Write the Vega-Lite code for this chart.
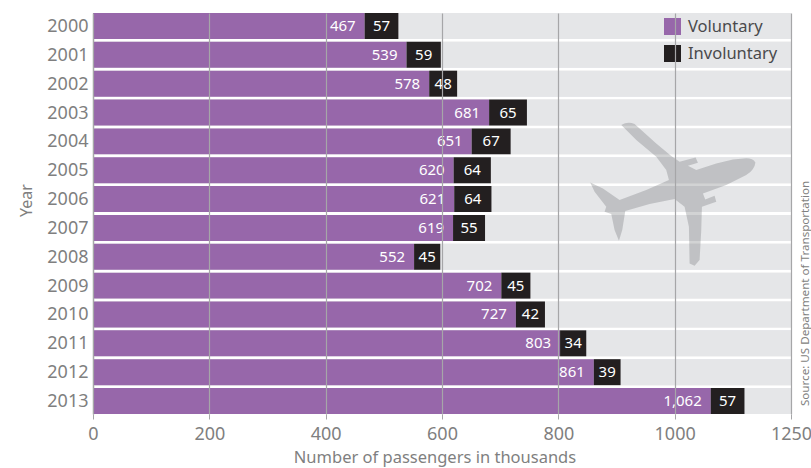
{"$schema":"https://vega.github.io/schema/vega-lite/v6.json","width":698,"height":401,"autosize":"none","padding":{"left":93,"top":13,"right":20,"bottom":54},"background":"white",
"config":{"font":"Noto Sans","view":{"stroke":null}},
"data":{"values":[
{"year":"2000","type":"Voluntary","value":467,"drawn":467},{"year":"2000","type":"Involuntary","value":57,"drawn":58},
{"year":"2001","type":"Voluntary","value":539,"drawn":539},{"year":"2001","type":"Involuntary","value":59,"drawn":59},
{"year":"2002","type":"Voluntary","value":578,"drawn":578},{"year":"2002","type":"Involuntary","value":48,"drawn":48},
{"year":"2003","type":"Voluntary","value":681,"drawn":681},{"year":"2003","type":"Involuntary","value":65,"drawn":65},
{"year":"2004","type":"Voluntary","value":651,"drawn":651},{"year":"2004","type":"Involuntary","value":67,"drawn":67},
{"year":"2005","type":"Voluntary","value":620,"drawn":620},{"year":"2005","type":"Involuntary","value":64,"drawn":64},
{"year":"2006","type":"Voluntary","value":621,"drawn":621},{"year":"2006","type":"Involuntary","value":64,"drawn":64},
{"year":"2007","type":"Voluntary","value":619,"drawn":619},{"year":"2007","type":"Involuntary","value":55,"drawn":55},
{"year":"2008","type":"Voluntary","value":552,"drawn":552},{"year":"2008","type":"Involuntary","value":45,"drawn":45},
{"year":"2009","type":"Voluntary","value":702,"drawn":702},{"year":"2009","type":"Involuntary","value":45,"drawn":50},
{"year":"2010","type":"Voluntary","value":727,"drawn":727},{"year":"2010","type":"Involuntary","value":42,"drawn":50},
{"year":"2011","type":"Voluntary","value":803,"drawn":803},{"year":"2011","type":"Involuntary","value":34,"drawn":45},
{"year":"2012","type":"Voluntary","value":861,"drawn":861},{"year":"2012","type":"Involuntary","value":39,"drawn":46},
{"year":"2013","type":"Voluntary","value":1062,"drawn":1062},{"year":"2013","type":"Involuntary","value":57,"drawn":58}]},
"transform":[{"stack":"drawn","groupby":["year"],"sort":[{"field":"type","order":"descending"}],"as":["x0","x1"]}],
"encoding":{"y":{"field":"year","type":"ordinal","scale":{"paddingInner":0.1,"paddingOuter":0},"axis":{"title":"Year","titleFontSize":16,"titleFontWeight":"normal","titleColor":"#7f7f80","titlePadding":12,"titleY":187,"labelFontSize":18,"labelColor":"#7f7f80","labelPadding":5,"labelOffset":1,"ticks":false,"domainColor":"#c4c4c4","domainWidth":1.5}}},
"layer":[
{"mark":{"type":"bar","color":"#e5e6e8"},"encoding":{"x":{"datum":1200,"type":"quantitative","scale":{"domain":[0,1200],"nice":false},"axis":{"values":[0,200,400,600,800,1000,1200],"labelExpr":"datum.value==1200?'1250':datum.value","format":"d","title":"Number of passengers  in thousands","titleFontSize":16.5,"titleFontWeight":"normal","titleColor":"#7f7f80","titlePadding":6,"titleX":341.5,"labelFontSize":18,"labelColor":"#7f7f80","labelPadding":6,"labelFlush":false,"grid":true,"gridColor":"#a6a6a8","gridWidth":1.2,"tickColor":"#a6a6a8","tickSize":5,"domain":false,"zindex":1}}}},
{"mark":{"type":"bar"},"encoding":{"x":{"field":"x0","type":"quantitative"},"x2":{"field":"x1"},"color":{"field":"type","type":"nominal","scale":{"domain":["Voluntary","Involuntary"],"range":["#9767aa","#231f20"]},"legend":{"orient":"none","legendX":571,"legendY":5,"title":null,"symbolType":"square","symbolSize":289,"symbolStrokeWidth":0,"symbolOpacity":1,"labelFontSize":16.5,"labelColor":"#4a4a4c","rowPadding":10,"labelOffset":7}}}},
{"transform":[{"filter":"datum.type=='Voluntary'"}],"mark":{"type":"text","align":"right","dx":-9,"color":"white","fontSize":15},"encoding":{"x":{"field":"x1","type":"quantitative"},"text":{"field":"value","type":"quantitative","format":","}}},
{"transform":[{"filter":"datum.type=='Involuntary'"},{"fold":["x0","x1"],"as":["edge","pos"]}],"mark":{"type":"text","align":"center","color":"white","fontSize":15},"encoding":{"x":{"aggregate":"mean","field":"pos","type":"quantitative"},"text":{"aggregate":"max","field":"value","type":"quantitative"}}},
{"data":{"values":[{"year":"2006","xpos":997}]},"transform":[],"mark":{"type":"point","filled":true,"color":"#6b6c70","opacity":0.3,"size":27778,"shape":"M.99,-.44Q.96,-.49.88,-.49L.72,-.476L.52,-.428L.28,-.348L.18,-.4L.3,-.436L.272,-.5L.08,-.448L-.02,-.516L-.2,-.668L-.46,-.9Q-.54,-.94-.62,-.888L-.44,-.708L-.2,-.508L-.08,-.348L-.048,-.228L-.32,-.108L-.64,.012L-.84,-.128L-.992,-.2L-.94,-.088L-.8,.092L-.82,.152L-.74,.18L-.7,.372L-.648,.5L-.608,.372L-.572,.144L-.28,.06L.02,0L.14,.092L.192,.332L.2,.772L.26,.8L.32,.732L.34,.372L.348,.092L.52,.032L.5,-.04L.388,.004L.36,-.068L.64,-.168L.88,-.288Q.98,-.35.99,-.44Z"},"encoding":{"x":{"field":"xpos","type":"quantitative"}}},
{"data":{"values":[{"year":"2013","xpos":1226,"note":"Source: US Department of Transportation"}]},"transform":[],"mark":{"type":"text","angle":270,"align":"left","baseline":"middle","dx":-5,"fontSize":11.6,"color":"#7f7f80"},"encoding":{"x":{"field":"xpos","type":"quantitative"},"text":{"field":"note"}}}
]}
